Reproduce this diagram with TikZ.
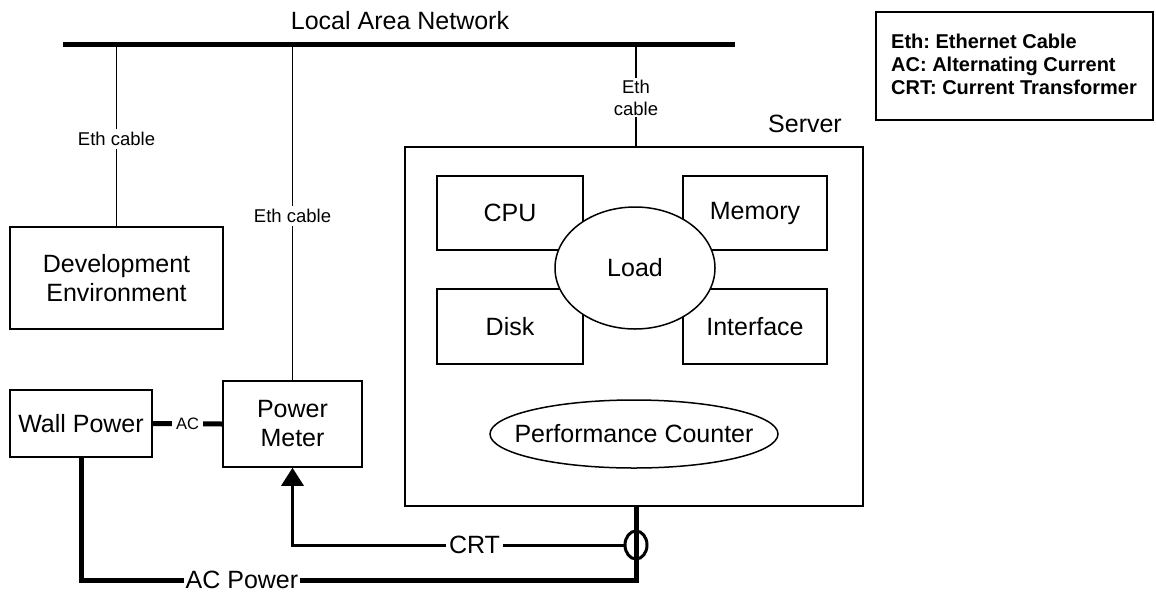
\documentclass[tikz,border=0pt]{standalone}
\usepackage{fontspec}
\setmainfont{Liberation Sans}
\usetikzlibrary{shapes.geometric,arrows.meta}
\begin{document}
\frenchspacing
\begin{tikzpicture}[x=1pt,y=-1pt,
  big/.style={font=\fontsize{25}{29}\selectfont},
  small/.style={font=\fontsize{18.5}{22}\selectfont},
  box/.style={draw,line width=1.5pt,rectangle,big,align=center,inner sep=0pt},
  oval/.style={draw,line width=1.5pt,ellipse,fill=white,big,align=center,inner sep=0pt},
  eth/.style={line width=1.5pt},
  lbl/.style={fill=white,inner sep=3pt},
  thick5/.style={line width=5pt},
  crt/.style={line width=3pt}]
\useasboundingbox (0,0) rectangle (1156,592);

% LAN
\node[big] (lan) at (400,21) {Local Area Network};
\coordinate (lanL) at (63,44.5);
\coordinate (lanR) at (735,44.5);
\draw[thick5] (lanL) -- (lanR);

% legend
\node[draw,line width=2.5pt,minimum width=277pt,minimum height=108pt,inner sep=0pt] (legend) at (1014.5,66) {};
\node[anchor=north west,align=left,inner sep=0pt,font=\fontsize{20}{23}\selectfont\bfseries] (legtxt) at (891,34)
  {Eth: Ethernet Cable\\AC: Alternating Current\\CRT: Current Transformer};

% boxes
\node[box,minimum width=213pt,minimum height=102pt] (dev) at (116.5,278) {Development\\Environment};
\node[box,minimum width=142pt,minimum height=67pt] (wall) at (81,423.5) {Wall Power};
\node[box,minimum width=139pt,minimum height=86pt] (meter) at (292.5,424) {Power\\Meter};
\node[box,minimum width=458pt,minimum height=359pt] (server) at (634,326.5) {};
\node[big] (srvlbl) at (805,124) {Server};
\node[box,minimum width=146pt,minimum height=74pt] (cpu) at (510,213) {CPU};
\node[box,minimum width=144pt,minimum height=74pt] (mem) at (755,213) {Memory};
\node[box,minimum width=146pt,minimum height=75pt] (disk) at (510,326.5) {Disk};
\node[box,minimum width=144pt,minimum height=75pt] (iface) at (755,326.5) {Interface};
\node[oval,minimum width=160pt,minimum height=122pt] (load) at (635,268) {Load};
\node[oval,minimum width=288pt,minimum height=68pt,label={[big]center:Performance Counter}] (perf) at (634,434) {};

% ethernet connections
\coordinate (t1) at (dev.north |- lanL);
\coordinate (t2) at (meter.north |- lanL);
\coordinate (t3) at (636,44.5);
\draw[eth] (t1) -- node[lbl,small,pos=0.52] (e1) {Eth cable} (dev.north);
\draw[eth] (t2) -- node[lbl,small,pos=0.51] (e2) {Eth cable} (meter.north);
\draw[eth] (t3) -- node[lbl,small,align=center,inner sep=2pt,pos=0.52] (e3) {Eth\\cable} (t3 |- server.north);

% AC between wall and meter
\draw[thick5] (wall.east) -- node[lbl,font=\fontsize{16.5}{20}\selectfont,inner sep=4pt] (ac) {AC} (meter.west);

% current transformer
\node[draw,ellipse,line width=3pt,minimum width=22pt,minimum height=28pt,inner sep=0pt] (ct) at (636,545) {};
\coordinate (bot) at (636,580);
\draw[thick5] (wall.south) |- node[lbl,big,pos=0.645,inner sep=2pt] (acp) {AC Power} (bot) -- (bot |- server.south);
\draw[crt,-{Triangle[width=22pt,length=18pt]}] (ct.west) -| node[lbl,big,pos=0.225,inner sep=3pt] (crtl) {CRT} (meter.south);
\end{tikzpicture}
\end{document}
